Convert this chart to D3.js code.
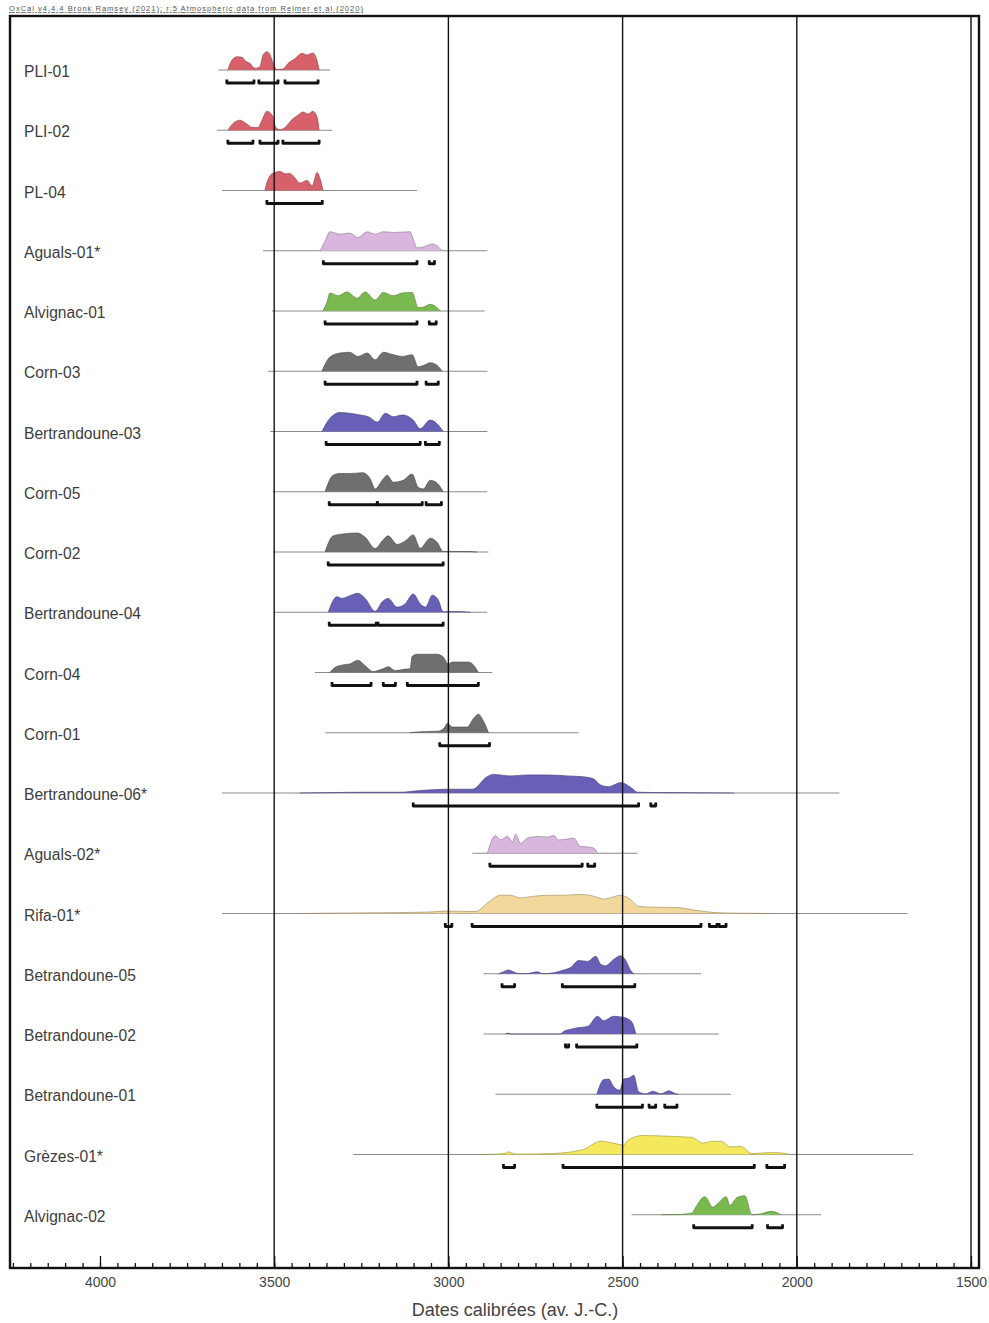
<!DOCTYPE html>
<html><head><meta charset="utf-8">
<script src="https://cdn.jsdelivr.net/npm/d3@7"></script>
<style>body{margin:0;background:#fff;} svg{display:block;}</style>
</head><body>
<svg id="chart" width="989" height="1323"></svg>
<script>
// ---------------- DATA ----------------
const headerText = "OxCal v4.4.4 Bronk Ramsey (2021); r:5 Atmospheric data from Reimer et al (2020)";
const axisTitle = "Dates calibrées (av. J.-C.)";
const xTicks = [4000, 3500, 3000, 2500, 2000, 1500];

const labels = ["PLI-01","PLI-02","PL-04","Aguals-01*","Alvignac-01","Corn-03","Bertrandoune-03",
  "Corn-05","Corn-02","Bertrandoune-04","Corn-04","Corn-01","Bertrandoune-06*","Aguals-02*",
  "Rifa-01*","Betrandoune-05","Betrandoune-02","Betrandoune-01","Grèzes-01*","Alvignac-02"];

const sites = ["PLI","PLI","PLI","Aguals","Alvignac","Corn","Bertrandoune","Corn","Corn","Bertrandoune",
  "Corn","Corn","Bertrandoune","Aguals","Rifa","Bertrandoune","Bertrandoune","Bertrandoune","Grezes","Alvignac"];

// extent of the plotted (prior) line, cal BC
const baselines = [[3660,3340],[3665,3334],[3650,3090],[3532,2888],[3506,2896],[3518,2888],[3512,2888],
  [3504,2888],[3504,2885],[3498,2888],[3383,2874],[3354,2626],[3650,1878],[2931,2457],[3650,1683],
  [2899,2275],[2899,2224],[2865,2189],[3273,1666],[2474,1930]];

// relative probability densities [year cal BC, relative probability]
const densities = [
  [[3633,0],[3621,0.53],[3607,0.7],[3592,0.67],[3584,0.5],[3570,0.35],[3555,0.09],[3541,0.17],[3532,0.79],[3521,0.96],[3512,0.79],[3503,0.35],[3492,0.03],[3475,0.05],[3460,0.35],[3440,0.6],[3420,0.88],[3406,0.79],[3389,0.9],[3377,0.5],[3371,0]],
  [[3633,0],[3618,0.36],[3598,0.53],[3584,0.4],[3561,0.14],[3547,0.14],[3535,0.53],[3521,1.0],[3506,0.8],[3495,0.14],[3483,0.03],[3469,0.14],[3449,0.56],[3432,0.79],[3417,0.96],[3403,0.85],[3389,1.0],[3377,0.7],[3371,0]],
  [[3527,0],[3518,0.56],[3504,0.91],[3483,1.0],[3469,0.88],[3455,0.9],[3440,0.65],[3426,0.39],[3406,0.53],[3391,0.25],[3377,0.95],[3368,0.6],[3360,0]],
  [[3368,0],[3354,0.5],[3340,1.0],[3311,0.87],[3283,0.93],[3260,0.69],[3233,1.0],[3210,0.87],[3187,1.0],[3158,0.96],[3110,1.0],[3101,0.6],[3090,0.15],[3072,0.2],[3046,0.36],[3029,0.2],[3018,0]],
  [[3360,0],[3348,0.5],[3340,0.95],[3317,0.8],[3291,1.0],[3262,0.67],[3239,1.0],[3210,0.58],[3187,0.98],[3158,0.8],[3132,0.95],[3104,0.98],[3087,0.18],[3072,0.2],[3052,0.35],[3023,0]],
  [[3363,0],[3340,0.75],[3311,0.96],[3283,1.0],[3260,0.78],[3233,0.96],[3210,0.6],[3187,1.0],[3158,0.87],[3132,0.78],[3104,0.87],[3087,0.24],[3072,0.3],[3052,0.45],[3032,0.3],[3018,0]],
  [[3363,0],[3340,0.7],[3311,1.0],[3283,0.96],[3254,0.87],[3230,0.78],[3204,0.5],[3181,0.96],[3158,0.78],[3132,0.87],[3101,0.6],[3081,0.15],[3052,0.6],[3032,0.4],[3015,0]],
  [[3354,0],[3331,0.87],[3311,0.96],[3283,0.96],[3245,1.0],[3225,0.7],[3210,0.15],[3190,0.6],[3176,0.87],[3158,0.5],[3130,0.6],[3104,0.93],[3087,0.24],[3072,0.15],[3052,0.6],[3032,0.45],[3015,0]],
  [[3354,0],[3331,0.85],[3303,0.95],[3262,1.0],[3239,0.78],[3210,0.18],[3190,0.58],[3173,0.85],[3147,0.4],[3124,0.58],[3101,0.9],[3081,0.2],[3052,0.73],[3032,0.5],[3015,0.03],[2975,0.03],[2937,0.02],[2917,0]],
  [[3345,0],[3320,0.82],[3305,0.73],[3283,0.87],[3260,1.0],[3239,0.73],[3210,0.05],[3190,0.55],[3173,0.73],[3147,0.27],[3124,0.45],[3101,0.96],[3081,0.45],[3066,0.27],[3046,0.9],[3029,0.64],[3015,0.03],[2975,0.04],[2937,0]],
  [[3340,0],[3325,0.27],[3303,0.4],[3283,0.45],[3260,0.64],[3239,0.36],[3216,0.05],[3190,0.18],[3173,0.3],[3152,0.1],[3124,0.18],[3110,0.2],[3104,0.85],[3090,0.96],[3032,0.96],[3015,0.82],[3000,0.45],[2989,0.55],[2943,0.55],[2917,0.1],[2914,0]],
  [[3110,0],[3101,0.02],[3081,0.05],[3029,0.08],[3010,0.3],[3003,0.5],[2989,0.3],[2946,0.3],[2928,0.75],[2914,0.98],[2899,0.6],[2885,0]],
  [[3426,0],[3340,0.02],[3253,0.04],[3138,0.04],[3081,0.13],[3003,0.2],[2931,0.2],[2888,0.87],[2871,0.98],[2822,0.9],[2773,0.95],[2716,0.95],[2658,0.9],[2612,0.85],[2583,0.74],[2563,0.42],[2540,0.33],[2505,0.55],[2477,0.3],[2457,0.04],[2370,0.02],[2180,0]],
  [[2888,0],[2865,0.93],[2851,0.7],[2830,0.88],[2816,0.6],[2807,1.0],[2793,0.52],[2773,0.8],[2744,0.88],[2716,0.85],[2698,0.93],[2684,0.7],[2658,0.75],[2641,0.8],[2621,0.36],[2598,0.33],[2583,0.27],[2572,0]],
  [[3426,0],[3282,0.03],[3138,0.05],[3052,0.08],[3003,0.13],[2922,0.1],[2885,0.6],[2851,0.96],[2822,0.96],[2793,0.82],[2756,0.91],[2707,0.96],[2669,0.96],[2620,1.0],[2583,0.91],[2554,0.76],[2505,0.96],[2477,0.73],[2454,0.37],[2399,0.33],[2341,0.31],[2295,0.18],[2226,0.04],[2180,0.02],[2074,0]],
  [[2856,0],[2842,0.1],[2828,0.2],[2813,0.1],[2802,0.02],[2779,0],[2744,0.1],[2730,0],[2698,0.05],[2669,0.2],[2649,0.33],[2626,0.7],[2600,0.65],[2577,0.92],[2563,0.5],[2549,0.42],[2526,0.75],[2505,0.95],[2491,0.7],[2477,0.17],[2468,0]],
  [[2836,0],[2828,0.04],[2819,0],[2678,0],[2669,0.14],[2649,0.25],[2629,0.33],[2600,0.4],[2572,0.93],[2554,0.7],[2526,0.93],[2505,0.9],[2485,0.8],[2471,0.55],[2462,0]],
  [[2574,0],[2554,0.77],[2540,0.8],[2526,0.4],[2508,0.22],[2497,0.8],[2482,0.85],[2468,1.0],[2454,0.13],[2434,0.02],[2413,0.16],[2390,0.02],[2367,0.18],[2347,0.02],[2339,0]],
  [[2900,0],[2840,0.05],[2828,0.14],[2810,0.03],[2790,0.02],[2704,0.05],[2615,0.25],[2563,0.7],[2528,0.6],[2497,0.5],[2485,0.75],[2442,1.0],[2367,0.96],[2301,0.9],[2270,0.6],[2241,0.7],[2215,0.68],[2192,0.4],[2160,0.42],[2129,0.05],[2100,0.08],[2062,0.1],[2019,0]],
  [[2390,0],[2333,0.02],[2300,0.1],[2290,0.4],[2264,0.95],[2241,0.4],[2226,0.6],[2203,0.95],[2192,0.5],[2172,0.9],[2149,1.0],[2129,0],[2103,0.05],[2074,0.18],[2045,0]]
];

// 95.4 % ranges [from, to] cal BC
const ranges = [
  [[3636,3558],[3544,3489],[3469,3374]],
  [[3633,3561],[3541,3489],[3475,3371]],
  [[3521,3362]],
  [[3359,3090],[3055,3040]],
  [[3354,3090],[3055,3035]],
  [[3354,3090],[3064,3029]],
  [[3351,3081],[3066,3026]],
  [[3342,3204],[3204,3075],[3064,3020]],
  [[3345,3015]],
  [[3342,3207],[3202,3015]],
  [[3334,3222],[3187,3152],[3118,2914]],
  [[3025,2882]],
  [[3101,2454],[2419,2405]],
  [[2881,2616],[2600,2580]],
  [[3009,2990],[2932,2275],[2251,2229],[2223,2203]],
  [[2846,2810],[2673,2465]],
  [[2664,2655],[2632,2459]],
  [[2574,2443],[2424,2405],[2379,2344]],
  [[2842,2810],[2671,2122],[2086,2035]],
  [[2296,2128],[2084,2041]]
];

// ---------------- STYLE ----------------
const siteColor = {
  PLI: "#d6616a", Aguals: "#d9b6de", Alvignac: "#79b94f", Corn: "#6f6f6f",
  Bertrandoune: "#6760b6", Rifa: "#f2d89c", Grezes: "#f4e85c"
};

const frame = {left: 10, right: 979, top: 16, bottom: 1268};
const svg = d3.select("#chart");
const font = "'Liberation Sans', Arial, Helvetica, sans-serif";

const x = d3.scaleLinear().domain([4000, 1500]).range([100, 971]);
const y = d3.scalePoint().domain(d3.range(labels.length)).range([70, 70 + 19 * 60.25]);
const h = d3.scaleLinear().domain([0, 1]).range([0, 19]);

// header
svg.append("text").attr("x", 9).attr("y", 11).text(headerText)
  .attr("font-family", font).attr("font-size", 7.6).attr("fill", "#555")
  .attr("text-decoration", "underline").attr("textLength", 354);

// frame background
svg.append("rect").attr("x", frame.left).attr("y", frame.top)
  .attr("width", frame.right - frame.left).attr("height", frame.bottom - frame.top)
  .attr("fill", "#fff");

const rows = svg.append("g");
labels.forEach((lab, i) => {
  const g = rows.append("g");
  const by = y(i);
  const col = siteColor[sites[i]];
  // baseline
  g.append("line").attr("x1", x(baselines[i][0])).attr("x2", x(baselines[i][1]))
    .attr("y1", by).attr("y2", by).attr("stroke", "#8a8a8a").attr("stroke-width", 1.2);
  // density
  const area = d3.area().x(d => x(d[0])).y0(by).y1(d => by - h(d[1])).curve(d3.curveMonotoneX);
  const line = d3.line().x(d => x(d[0])).y(d => by - h(d[1])).curve(d3.curveMonotoneX);
  g.append("path").attr("d", area(densities[i])).attr("fill", col);
  g.append("path").attr("d", line(densities[i])).attr("fill", "none")
    .attr("stroke", d3.color(col).darker(1.2)).attr("stroke-width", 0.8).attr("opacity", 0.8);
  // ranges
  ranges[i].forEach(r => {
    const x1 = x(r[0]), x2 = x(r[1]), ry = by + 13;
    g.append("path").attr("d", `M${x1},${ry - 3.5}L${x1},${ry}L${x2},${ry}L${x2},${ry - 3.5}`)
      .attr("fill", "none").attr("stroke", "#111").attr("stroke-width", 2.8)
      .attr("stroke-linejoin", "round");
  });
  // label
  svg.append("text").attr("x", 24).attr("y", by + 7).text(lab)
    .attr("font-family", font).attr("font-size", 15.6).attr("fill", "#3d3d3d");
});

// vertical grid lines
svg.append("g").selectAll("line").data(xTicks.filter(t => t !== 4000)).join("line")
  .attr("x1", d => x(d)).attr("x2", d => x(d))
  .attr("y1", frame.top).attr("y2", frame.bottom)
  .attr("stroke", "#111").attr("stroke-width", 1.4);

// frame
svg.append("rect").attr("x", frame.left).attr("y", frame.top)
  .attr("width", frame.right - frame.left).attr("height", frame.bottom - frame.top)
  .attr("fill", "none").attr("stroke", "#111").attr("stroke-width", 2.4);

// axis ticks (inside, upward)
const minor = d3.range(4250, 1450, -50);
const axMinor = svg.append("g").attr("transform", `translate(0,${frame.bottom})`)
  .call(d3.axisTop(x).tickValues(minor).tickSize(5).tickFormat(""));
const axMajor = svg.append("g").attr("transform", `translate(0,${frame.bottom})`)
  .call(d3.axisTop(x).tickValues(xTicks).tickSize(12).tickFormat(""));
[axMinor, axMajor].forEach(a => {
  a.select(".domain").remove();
  a.selectAll("line").attr("stroke", "#111").attr("stroke-width", 1.3);
});
const axLab = svg.append("g").attr("transform", `translate(0,${frame.bottom})`)
  .call(d3.axisBottom(x).tickValues(xTicks).tickSize(0).tickPadding(9).tickFormat(d3.format("d")));
axLab.select(".domain").remove();
axLab.selectAll("text").attr("font-family", font).attr("font-size", 14).attr("fill", "#444");

svg.append("text").attr("x", 515).attr("y", 1316).attr("text-anchor", "middle").text(axisTitle)
  .attr("font-family", font).attr("font-size", 18).attr("fill", "#444");
</script>
</body></html>
